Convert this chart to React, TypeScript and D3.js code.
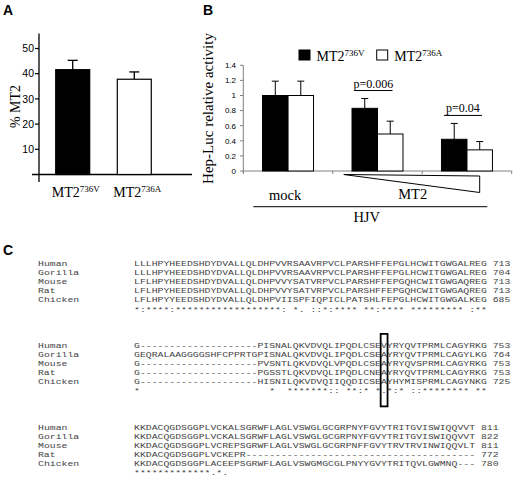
import React from "react";
import * as d3 from "d3";

// ---------- Panel A data ----------
const catsA = ["MT2 736V", "MT2 736A"];
const supA = ["736V", "736A"];
const valuesA = [41.6, 37.8];
const errorsA = [3.7, 2.9];
const ticksA = [10, 20, 30, 40, 50];
const fillsA = ["#000", "#fff"];

// ---------- Panel B data ----------
const groupsB = ["mock", "MT2 high", "MT2 low"];
const seriesB = ["736V", "736A"];
const valuesB_V = [1.0, 0.83, 0.42];
const valuesB_A = [1.0, 0.49, 0.28];
const errB_V = [0.19, 0.13, 0.21];
const errB_A = [0.19, 0.17, 0.11];
const pLabels = ["", "p=0.006", "p=0.04"];
const ticksB = [0, 0.2, 0.4, 0.6, 0.8, 1, 1.2, 1.4];
const fillsB = ["#000", "#fff"];

// ---------- Panel C data ----------
const species = ["Human", "Gorilla", "Mouse", "Rat", "Chicken"];
const block1 = [
  "LLLHPYHEEDSHDYDVALLQLDHPVVRSAAVRPVCLPARSHFFEPGLHCWITGWGALREG",
  "LLLHPYHEEDSHDYDVALLQLDHPVVRSAAVRPVCLPARSHFFEPGLHCWITGWGALREG",
  "LFLHPYHEEDSHDYDVALLQLDHPVVYSATVRPVCLPARSHFFEPGQHCWITGWGAQREG",
  "LFLHPYHEEDSHDYDVALLQLDHPVVYSATVRPVCLPARSHFFEPGQHCWITGWGAQREG",
  "LFLHPYYEEDSHDYDVALLQLDHPVIISPFIQPICLPATSHLFEPGLHCWITGWGALKEG",
];
const ends1 = [713, 704, 713, 713, 685];
const cons1 = "*:****:******************: *. ::*:**** **:**** ********* :**";
const block2 = [
  "G--------------------PISNALQKVDVQLIPQDLCSEVYRYQVTPRMLCAGYRKG",
  "GEQRALAAGGGGSHFCPPRTGPISNALQKVDVQLIPQDLCSEAYRYQVTPRMLCAGYLKG",
  "G--------------------PVSNTLQKVDVQLVPQDLCSEAYRYQVSPRMLCAGYRKG",
  "G--------------------PGSSTLQKVDVQLIPQDLCNEAYRYQVTPRMLCAGYRKG",
  "G--------------------HISNILQKVDVQIIQQDICSEAYHYMISPRMLCAGYNKG",
];
const ends2 = [753, 764, 753, 753, 725];
const cons2 = "*                      *  *******:: **:* *.*:* ::******** **";
const block3 = [
  "KKDACQGDSGGPLVCKALSGRWFLAGLVSWGLGCGRPNYFGVYTRITGVISWIQQVVT",
  "KKDACQGDSGGPLVCKALSGRWFLAGLVSWGLGCGRPNYFGVYTRITGVISWIQQVVT",
  "KKDACQGDSGGPLVCREPSGRWFLAGLVSWGLGCGRPNFFGVYTRVTRVINWIQQVLT",
  "KKDACQGDSGGPLVCKEPR---------------------------------------",
  "KKDACQGDSGGPLACEEPSGRWFLAGLVSWGMGCGLPNYYGVYTRITQVLGWMNQ---",
];
const ends3 = [811, 822, 811, 772, 780];
const cons3 = "*************.*.";
const boxedBlock = 1;
const boxedCol = 42;

const blocks = [
  { seqs: block1, ends: ends1, cons: cons1 },
  { seqs: block2, ends: ends2, cons: cons2 },
  { seqs: block3, ends: ends3, cons: cons3 },
];

const SERIF = "'Liberation Serif', 'Times New Roman', serif";
const SANS = "'Liberation Sans', Arial, sans-serif";
const MONO = "'Liberation Mono', 'Courier New', monospace";

function PanelA() {
  const y = d3.scaleLinear().domain([0, 50]).range([174.5, 48.5]);
  const x = d3.scaleBand<string>().domain(catsA).range([43.4, 163.6]).paddingInner(0.448).paddingOuter(0.2);
  const axisX = 39;
  return (
    <g>
      <text x={3} y={15} fontFamily={SANS} fontWeight="bold" fontSize={14}>A</text>
      <line x1={axisX} x2={axisX} y1={y(56)} y2={y(-3)} stroke="#000" strokeWidth={1.3} />
      <line x1={32} x2={192} y1={y(0)} y2={y(0)} stroke="#000" strokeWidth={1.3} />
      {ticksA.map((t) => (
        <g key={t}>
          <line x1={axisX - 4} x2={axisX} y1={y(t)} y2={y(t)} stroke="#000" strokeWidth={1.2} />
          <text x={axisX - 5} y={y(t)} dy="0.36em" textAnchor="end" fontFamily={SANS} fontSize={10.5}>{t}</text>
        </g>
      ))}
      {catsA.map((c, i) => {
        const bx = x(c)!;
        const bw = x.bandwidth();
        const cx = bx + bw / 2;
        return (
          <g key={c}>
            <line x1={cx} x2={cx} y1={y(valuesA[i])} y2={y(valuesA[i] + errorsA[i])} stroke="#000" strokeWidth={1.3} />
            <line x1={cx - 5} x2={cx + 5} y1={y(valuesA[i] + errorsA[i])} y2={y(valuesA[i] + errorsA[i])} stroke="#000" strokeWidth={1.3} />
            <rect x={bx} y={y(valuesA[i])} width={bw} height={y(0) - y(valuesA[i])} fill={fillsA[i]} stroke="#000" strokeWidth={1.2} />
            <text x={cx + 3} y={197} textAnchor="middle" fontFamily={SERIF} fontSize={14}>
              MT2<tspan fontSize={9} dy={-5}>{supA[i]}</tspan>
            </text>
          </g>
        );
      })}
      <text transform={`translate(20,${y(27)}) rotate(-90)`} textAnchor="middle" fontFamily={SERIF} fontSize={14}>% MT2</text>
    </g>
  );
}

function PanelB() {
  const y = d3.scaleLinear().domain([0, 1.4]).range([171, 65.3]);
  const x0 = d3.scaleBand<string>().domain(groupsB).range([243.3, 511.7]).padding(0);
  const x1 = d3.scaleBand<string>().domain(seriesB).range([0, x0.bandwidth()]).paddingInner(0).paddingOuter(0.755);
  const vals = [valuesB_V, valuesB_A];
  const errs = [errB_V, errB_A];
  const axisColor = "#808080";
  const fmt = (d: number) => String(+d.toFixed(1));
  return (
    <g>
      <text x={203} y={15} fontFamily={SANS} fontWeight="bold" fontSize={14}>B</text>
      {seriesB.map((s, i) => {
        const lx = 299 + i * 77.7;
        return (
          <g key={s}>
            <rect x={lx} y={50} width={11} height={10} fill={fillsB[i]} stroke="#000" strokeWidth={1} />
            <text x={lx + 17.5} y={61} fontFamily={SERIF} fontSize={14}>
              MT2<tspan fontSize={9} dy={-5}>{s}</tspan>
            </text>
          </g>
        );
      })}
      <line x1={243.3} x2={243.3} y1={y(1.4)} y2={y(0) + 2} stroke={axisColor} strokeWidth={1} />
      {ticksB.map((t) => (
        <g key={t}>
          <line x1={240} x2={243.3} y1={y(t)} y2={y(t)} stroke={axisColor} strokeWidth={1} />
          <text x={236} y={y(t)} dy="0.35em" textAnchor="end" fontFamily={SANS} fontSize={8}>{fmt(t)}</text>
        </g>
      ))}
      <line x1={243.3} x2={511.7} y1={y(0)} y2={y(0)} stroke={axisColor} strokeWidth={1} />
      {[...groupsB.map((g) => x0(g)!), x0.range()[1]].map((tx, i) => (
        <line key={i} x1={tx} x2={tx} y1={y(0)} y2={y(0) + 3} stroke={axisColor} strokeWidth={1} />
      ))}
      {groupsB.map((g, gi) => {
        const top = y(Math.max(vals[0][gi] + errs[0][gi], vals[1][gi] + errs[1][gi]));
        return (
          <g key={g} transform={`translate(${x0(g)},0)`}>
            {seriesB.map((s, si) => {
              const v = vals[si][gi];
              const e = errs[si][gi];
              const bx = x1(s)!;
              const bw = x1.bandwidth();
              const cx = bx + bw / 2;
              return (
                <g key={s}>
                  <line x1={cx} x2={cx} y1={y(v)} y2={y(v + e)} stroke="#000" strokeWidth={1} />
                  <line x1={cx - 3.5} x2={cx + 3.5} y1={y(v + e)} y2={y(v + e)} stroke="#000" strokeWidth={1} />
                  <rect x={bx} y={y(v)} width={bw} height={y(0) - y(v)} fill={fillsB[si]} stroke="#000" strokeWidth={1} />
                </g>
              );
            })}
            {pLabels[gi] ? (
              <g>
                <text x={x0.bandwidth() / 2 - 4} y={top - 11} textAnchor="middle" fontFamily={SERIF} fontSize={12}>{pLabels[gi]}</text>
                <line x1={x0.bandwidth() / 2 - 23} x2={x0.bandwidth() / 2 + 15} y1={top - 8} y2={top - 8} stroke="#000" strokeWidth={1} />
              </g>
            ) : null}
          </g>
        );
      })}
      <polygon
        points={`${x0("MT2 high")! + 11},174.5 ${x0("MT2 low")! + x0.bandwidth() - 32},176 ${x0("MT2 low")! + x0.bandwidth() - 32},192.5`}
        fill="none"
        stroke="#000"
        strokeWidth={1}
      />
      <text x={x0("mock")! + x0.bandwidth() / 2 - 3} y={200} textAnchor="middle" fontFamily={SERIF} fontSize={14.5}>mock</text>
      <text x={412.7} y={199} textAnchor="middle" fontFamily={SERIF} fontSize={14.5}>MT2</text>
      <line x1={253.3} x2={487.3} y1={206.7} y2={206.7} stroke="#333" strokeWidth={1.3} />
      <text x={366.7} y={222} textAnchor="middle" fontFamily={SERIF} fontSize={14.5}>HJV</text>
      <text transform={`translate(213,108.5) rotate(-90)`} textAnchor="middle" fontFamily={SERIF} fontSize={15}>Hep-Luc relative activity</text>
    </g>
  );
}

function MonoText({ x, y, s, cw, fs, color }: { x: number; y: number; s: string; cw: number; fs: number; color: string }) {
  return (
    <text
      x={x}
      y={y}
      fontFamily={MONO}
      fontSize={fs}
      fill={color}
      textLength={s.length * cw}
      lengthAdjust="spacingAndGlyphs"
      style={{ whiteSpace: "pre" }}
    >
      {s}
    </text>
  );
}

function PanelC() {
  const nameX = 38;
  const seqX = 134;
  const y0 = 266;
  const pitch = 9.1;
  const fs = 7.9;
  const cw = 5.88;
  const color = "#444";
  const rowY = (b: number, r: number) => y0 + (b * 9 + r) * pitch;
  return (
    <g>
      <text x={3} y={255} fontFamily={SANS} fontWeight="bold" fontSize={14}>C</text>
      {blocks.map((blk, b) => (
        <g key={b}>
          {blk.seqs.map((s, r) => (
            <g key={r}>
              <MonoText x={nameX} y={rowY(b, r)} s={species[r]} cw={cw} fs={fs} color={color} />
              <MonoText x={seqX} y={rowY(b, r)} s={s + " " + blk.ends[r]} cw={cw} fs={fs} color={color} />
            </g>
          ))}
          <MonoText x={seqX} y={rowY(b, 5)} s={blk.cons} cw={cw} fs={fs} color={color} />
        </g>
      ))}
      <rect
        x={seqX + boxedCol * cw - 0.3}
        y={rowY(boxedBlock, 0) - 14}
        width={cw + 1}
        height={rowY(boxedBlock, 5) - rowY(boxedBlock, 0) + 27}
        fill="none"
        stroke="#000"
        strokeWidth={1.8}
      />
    </g>
  );
}

export default function App() {
  return (
    <svg width={520} height={489} style={{ position: "absolute", left: 0, top: 0, background: "#fff" }}>
      <rect width={520} height={489} fill="#fff" />
      <PanelA />
      <PanelB />
      <PanelC />
    </svg>
  );
}
